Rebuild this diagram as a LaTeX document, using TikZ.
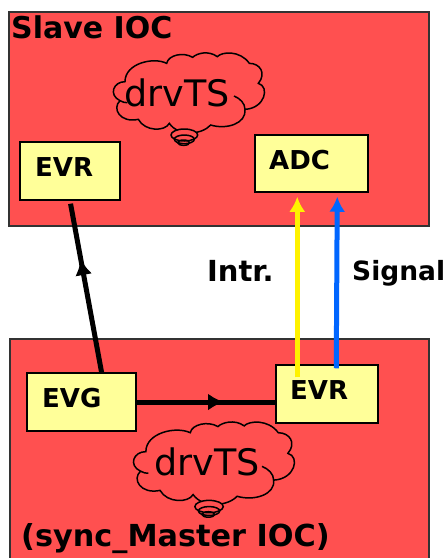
\documentclass[tikz,border=0pt]{standalone}
\usepackage{fontspec}
\setmainfont{DejaVu Sans}
\usetikzlibrary{decorations.markings,calc,arrows.meta}
\definecolor{iocred}{HTML}{FF5050}
\definecolor{boxyellow}{HTML}{FFFF99}
\definecolor{sigblue}{HTML}{0066FF}
\tikzset{
  ioc/.style={draw=black!80, line width=1.5pt, fill=iocred},
  box/.style={draw=black, line width=1.5pt, fill=boxyellow, inner sep=0pt},
  boxlabel/.style={anchor=west, inner sep=0pt, font=\fontsize{#1}{#1}\selectfont\bfseries},
  boxlabel/.default=26,
  tstext/.style={inner sep=0pt, font=\fontsize{36.5}{36.5}\selectfont},
  wire/.style={line width=5pt, decoration={markings, mark=at position #1 with {\arrow{Latex[length=16pt,width=17pt]}}}, postaction={decorate}},
  sigline/.style={line width=5pt, -{Latex[length=15pt,width=16pt]}},
  thought/.pic={
    \draw[line width=1.5pt, fill=iocred]
    (105,125) .. controls (70,125) and (55,165) .. (90,182)
    .. controls (65,205) and (90,250) .. (145,238)
    .. controls (165,275) and (225,275) .. (238,250)
    .. controls (265,290) and (335,285) .. (362,255)
    .. controls (410,270) and (470,250) .. (465,208)
    .. controls (525,205) and (540,140) .. (505,130)
    .. controls (530,100) and (510,70) .. (478,70)
    .. controls (450,30) and (395,35) .. (382,50)
    .. controls (355,30) and (320,40) .. (308,52)
    .. controls (280,35) and (235,45) .. (230,70)
    .. controls (190,50) and (105,70) .. (105,125) -- cycle;
    \draw[line width=1.5pt] (90,182) .. controls (98,187) and (105,188) .. (112,188);
    \draw[line width=1.5pt] (465,208) .. controls (465,190) and (450,175) .. (432,168);
    \draw[line width=1.5pt, fill=iocred] (283,285) ellipse [x radius=40, y radius=18];
    \draw[line width=1.5pt] (283,298) ellipse [x radius=30, y radius=13];
    \draw[line width=1.5pt] (281,308) ellipse [x radius=18, y radius=8];
  }
}

\begin{document}
\begin{tikzpicture}[x=1pt,y=-1pt,>=latex]
    \clip (0,0) rectangle (445,558);
    \fill[white] (0,0) rectangle (445,558);

    % the two IOCs
    \path[ioc] (9,12) rectangle (429,226);
    \path[ioc] (10,339) rectangle (429,575);

    \path (90,40) pic[scale=1/3] {thought};
    \path (108.6,408.7) pic[xscale=1.065/3,yscale=1.03/3] {thought};

    \node[box, minimum width=100pt, minimum height=58pt] (evrS) at (70,171) {};
    \node[box, minimum width=113pt, minimum height=57pt] (adc) at (311.5,163.5) {};
    \node[box, minimum width=109pt, minimum height=58pt] (evg) at (81.5,402) {};
    \node[box, minimum width=102pt, minimum height=58pt] (evrM) at (327,394) {};

    \draw[wire=.66, shorten >=3pt] (evg.56) -- (evrS.south);
    \draw[wire=.63] (evg.east) -- (evg.east -| evrM.west);
    \draw[sigline, yellow] ($(evrM.north west)+(22,13)$) -- ($(adc.south west)+(43,4)$);
    \draw[sigline, sigblue] ($(evrM.north west)+(61,4)$) -- ($(adc.south west)+(83,4)$);

    \node[boxlabel=30] (slave) at (11,27) {Slave IOC};
    \node[boxlabel=30.3] (master) at (21,539) {(sync\_Master IOC)};
    \node[boxlabel] (evrStxt) at (35,167) {EVR};
    \node[boxlabel] (adctxt) at (269,160) {ADC};
    \node[boxlabel] (evgtxt) at (42,398) {EVG};
    \node[boxlabel] (evrMtxt) at (290,390) {EVR};
    \node[boxlabel=29] (intr) at (207,271) {Intr.};
    \node[boxlabel=26.5] (signal) at (352,273) {Signal};
    \node[tstext] (tsS) at (177,93) {drvTS};
    \node[tstext] (tsM) at (207,462) {drvTS};
\end{tikzpicture}
\end{document}
